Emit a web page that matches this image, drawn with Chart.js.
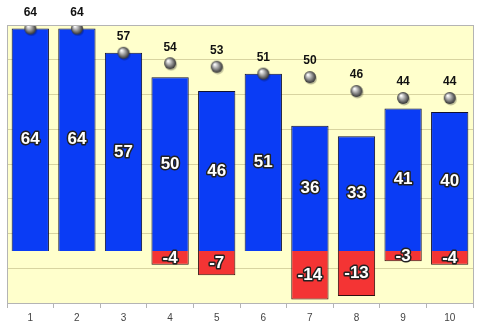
<!DOCTYPE html>
<html>
<head>
<meta charset="utf-8">
<script src="https://cdn.jsdelivr.net/npm/chart.js@4/dist/chart.umd.min.js"></script>
<style>
  html, body { margin: 0; padding: 0; background: #fff; }
  #wrap { width: 480px; height: 329px; }
</style>
</head>
<body>
<div id="wrap"><canvas id="c"></canvas></div>
<script>
// data
var categories = ['1', '2', '3', '4', '5', '6', '7', '8', '9', '10'];
var positives  = [64, 64, 57, 50, 46, 51, 36, 33, 41, 40];
var negatives  = [0, 0, 0, -4, -7, 0, -14, -13, -3, -4];
var totals     = [64, 64, 57, 54, 53, 51, 50, 46, 44, 44];
var gridValues = [-15, -5, 5, 15, 25, 35, 45, 55, 65];

// grey ball used as point marker
function makeBall(r) {
    var cv = document.createElement('canvas');
    cv.width = r * 2 + 4;
    cv.height = r * 2 + 4;
    var g = cv.getContext('2d');
    var cx = r + 2, cy = r + 2;
    g.fillStyle = 'rgba(0,0,0,0.25)';
    g.beginPath();
    g.arc(cx + 1, cy + 1.5, r, 0, 2 * Math.PI);
    g.fill();
    var grad = g.createRadialGradient(cx - r * 0.35, cy - r * 0.4, 0.5, cx, cy, r);
    grad.addColorStop(0, '#ffffff');
    grad.addColorStop(0.35, '#b8b8b8');
    grad.addColorStop(0.8, '#5a5a5a');
    grad.addColorStop(1, '#333333');
    g.fillStyle = grad;
    g.beginPath();
    g.arc(cx, cy, r, 0, 2 * Math.PI);
    g.fill();
    return cv;
}
var ball = makeBall(6);

var plotBg = {
    id: 'plotBg',
    beforeDraw: function(chart) {
        var a = chart.chartArea, ctx = chart.ctx;
        ctx.save();
        ctx.fillStyle = '#ffffcc';
        ctx.fillRect(a.left, a.top, a.right - a.left, a.bottom - a.top);
        ctx.restore();
    },
    afterDraw: function(chart) {
        var a = chart.chartArea, ctx = chart.ctx;
        ctx.save();
        ctx.strokeStyle = '#b4b4b4';
        ctx.lineWidth = 1;
        ctx.strokeRect(Math.round(a.left) + 0.5, Math.round(a.top) + 0.5,
                       Math.round(a.right - a.left), Math.round(a.bottom - a.top));
        ctx.restore();
    }
};

var valueLabels = {
    id: 'valueLabels',
    afterDatasetsDraw: function(chart) {
        var ctx = chart.ctx;
        ctx.save();
        ctx.textAlign = 'center';
        ctx.textBaseline = 'middle';
        [0, 1].forEach(function(di) {
            var meta = chart.getDatasetMeta(di);
            var vals = chart.data.datasets[di].data;
            meta.data.forEach(function(bar, i) {
                if (!vals[i]) return;
                var y = (bar.y + bar.base) / 2;
                ctx.font = 'bold 17px "Liberation Sans", sans-serif';
                ctx.lineJoin = 'round';
                ctx.lineWidth = 3;
                ctx.strokeStyle = '#222';
                ctx.strokeText(String(vals[i]), bar.x, y);
                ctx.fillStyle = '#fff';
                ctx.fillText(String(vals[i]), bar.x, y);
            });
        });
        var pm = chart.getDatasetMeta(2);
        ctx.font = 'bold 12px "Liberation Sans", sans-serif';
        ctx.fillStyle = '#111';
        pm.data.forEach(function(pt, i) {
            ctx.fillText(String(totals[i]), pt.x, pt.y - 16);
        });
        ctx.restore();
    }
};

new Chart(document.getElementById('c'), {
    type: 'bar',
    data: {
        labels: categories,
        datasets: [
            {
                data: positives,
                backgroundColor: '#0a3cf5',
                borderColor: '#101030',
                borderWidth: 1,
                categoryPercentage: 1,
                barPercentage: 0.8,
                order: 2
            },
            {
                data: negatives,
                backgroundColor: '#f43434',
                borderColor: '#301010',
                borderWidth: 1,
                categoryPercentage: 1,
                barPercentage: 0.8,
                order: 2
            },
            {
                type: 'line',
                data: totals,
                stack: 'pts',
                showLine: false,
                pointStyle: ball,
                pointRadius: 6,
                order: 1
            }
        ]
    },
    options: {
        responsive: true,
        maintainAspectRatio: false,
        animation: false,
        layout: { padding: { left: 7, right: 6, top: 25, bottom: 1 } },
        plugins: { legend: { display: false }, tooltip: { enabled: false } },
        scales: {
            x: {
                stacked: true,
                grid: { drawOnChartArea: false, drawTicks: true, tickLength: 5, color: '#b4b4b4' },
                border: { display: false },
                ticks: { color: '#444', font: { family: 'Liberation Sans', size: 10 }, padding: 4 }
            },
            y: {
                stacked: true,
                min: -15,
                max: 65,
                afterBuildTicks: function(scale) {
                    scale.ticks = gridValues.map(function(v) { return { value: v }; });
                },
                grid: { color: '#d8d4a0', drawTicks: false },
                border: { display: false },
                ticks: { display: false }
            }
        }
    },
    plugins: [plotBg, valueLabels]
});
</script>
</body>
</html>
